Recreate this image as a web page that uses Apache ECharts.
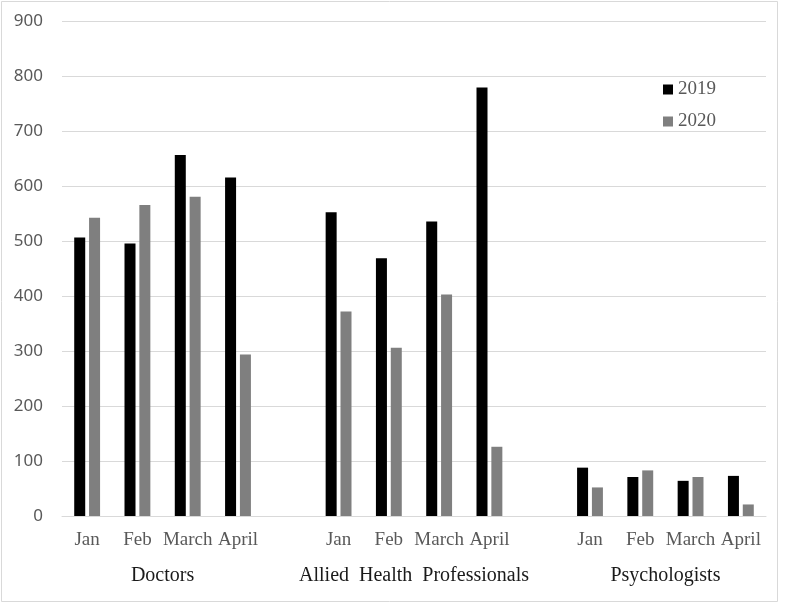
<!DOCTYPE html>
<html>
<head>
<meta charset="utf-8">
<script src="https://cdn.jsdelivr.net/npm/echarts@6/dist/echarts.min.js"></script>
<style>
  html, body { margin: 0; padding: 0; background: #fff; }
  #main { width: 788px; height: 605px; }
</style>
</head>
<body>
<div id="main"></div>
<script>
// data
var months = ['Jan', 'Feb', 'March', 'April'];
var groups = ['Doctors', 'Allied  Health  Professionals', 'Psychologists'];
var doctors2019 = [507, 496, 657, 616];
var doctors2020 = [543, 566, 581, 294];
var allied2019 = [553, 469, 536, 780];
var allied2020 = [372, 306, 403, 126];
var psych2019 = [88, 71, 64, 73];
var psych2020 = [52, 83, 71, 21];
var yTicks = [0, 100, 200, 300, 400, 500, 600, 700, 800, 900];

// build the category list with an empty slot between groups
var cats = [], s2019 = [], s2020 = [];
var all2019 = [doctors2019, allied2019, psych2019];
var all2020 = [doctors2020, allied2020, psych2020];
var groupPos = {};
for (var g = 0; g < groups.length; g++) {
  if (g > 0) { cats.push(''); s2019.push('-'); s2020.push('-'); }
  groupPos[cats.length + 2] = groups[g];
  for (var m = 0; m < months.length; m++) {
    cats.push(months[m]);
    s2019.push(all2019[g][m]);
    s2020.push(all2020[g][m]);
  }
}

var chart = echarts.init(document.getElementById('main'));
chart.setOption({
  animation: false,
  backgroundColor: '#fff',
  graphic: [{
    type: 'rect',
    shape: { x: 1.5, y: 1.5, width: 776, height: 600 },
    style: { fill: 'none', stroke: '#d9d9d9', lineWidth: 1 },
    silent: true
  }],
  grid: { left: 62, right: 22, top: 21.5, bottom: 89 },
  legend: {
    orient: 'vertical',
    left: 663,
    top: 80,
    padding: 0,
    itemWidth: 10,
    itemHeight: 10,
    itemGap: 13,
    icon: 'rect',
    textStyle: { fontFamily: 'Liberation Serif', fontSize: 19, color: '#595959' },
    data: ['2019', '2020']
  },
  xAxis: [{
    type: 'category',
    data: cats,
    axisLine: { lineStyle: { color: '#d9d9d9' } },
    axisTick: { show: false },
    axisLabel: {
      interval: 0,
      margin: 15,
      fontFamily: 'Liberation Serif',
      fontSize: 19,
      color: '#595959'
    }
  }, {
    type: 'value',
    position: 'bottom',
    min: 0,
    max: cats.length,
    interval: 1,
    axisLine: { show: false },
    axisTick: { show: false },
    splitLine: { show: false },
    axisLabel: {
      margin: 50,
      fontFamily: 'Liberation Serif',
      fontSize: 20,
      color: '#1a1a1a',
      formatter: function (v) { return groupPos[v] || ''; }
    }
  }],
  yAxis: {
    type: 'value',
    min: yTicks[0],
    max: yTicks[yTicks.length - 1],
    interval: 100,
    axisLine: { show: false },
    axisTick: { show: false },
    splitLine: { lineStyle: { color: '#d9d9d9' } },
    axisLabel: {
      margin: 19,
      fontFamily: 'Noto Sans',
      fontSize: 17,
      color: '#595959'
    }
  },
  series: [{
    name: '2019',
    type: 'bar',
    barWidth: 11,
    barGap: '35%',
    itemStyle: { color: '#000000' },
    data: s2019
  }, {
    name: '2020',
    type: 'bar',
    barWidth: 11,
    itemStyle: { color: '#7f7f7f' },
    data: s2020
  }]
});
</script>
</body>
</html>
